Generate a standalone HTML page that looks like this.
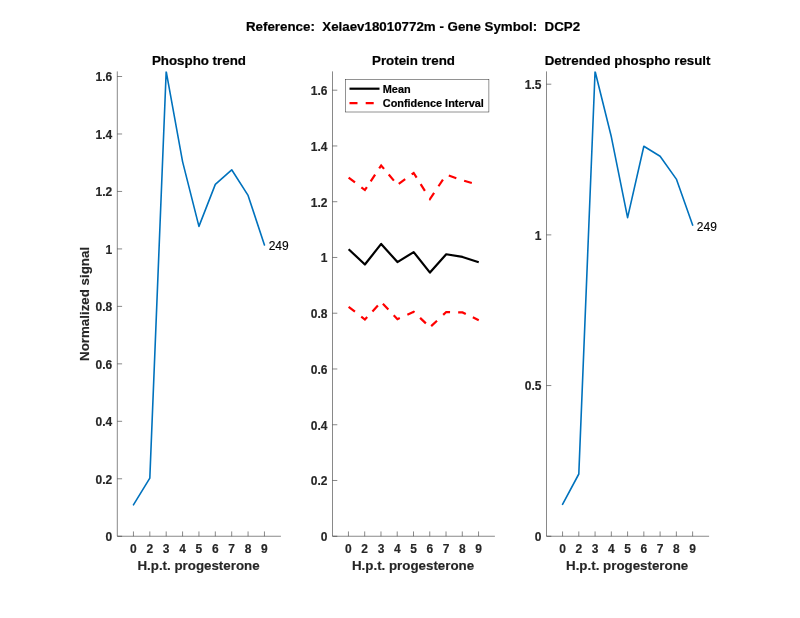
<!DOCTYPE html>
<html lang="en">
<head>
<meta charset="utf-8">
<title>Reference: Xelaev18010772m - Gene Symbol: DCP2</title>
<style>
html,body{margin:0;padding:0;background:#fff;overflow:hidden}
body{width:800px;height:618px}
svg text{font-family:"Liberation Sans",Arial,Helvetica,sans-serif}
</style>
</head>
<body>
<svg width="800" height="618" viewBox="0 0 800 618" style="display:block">
<rect width="800" height="618" fill="#fff"/>
<defs><clipPath id="clip"><rect x="0" y="71.4" width="800" height="464.85"/></clipPath></defs>
<text x="413.05" y="31" text-anchor="middle" font-weight="bold" font-size="13.33" fill="#000" stroke="#000" stroke-width="0.2" xml:space="preserve" style="white-space:pre">Reference:  Xelaev18010772m - Gene Symbol:  DCP2</text>
<g><path d="M117.3 71.4V536.25H280.9" fill="none" stroke="#262626" stroke-width="0.55"/><path d="M133.44 536.25v-4.8M149.82 536.25v-4.8M166.19 536.25v-4.8M182.57 536.25v-4.8M198.94 536.25v-4.8M215.32 536.25v-4.8M231.70 536.25v-4.8M248.07 536.25v-4.8M264.45 536.25v-4.8M117.3 536.25h4.8M117.3 478.78h4.8M117.3 421.31h4.8M117.3 363.85h4.8M117.3 306.38h4.8M117.3 248.91h4.8M117.3 191.44h4.8M117.3 133.97h4.8M117.3 76.51h4.8" fill="none" stroke="#262626" stroke-width="0.55"/><text x="133.44" y="553.05" text-anchor="middle" font-weight="bold" font-size="12" fill="#262626" stroke="#262626" stroke-width="0.15">0</text><text x="149.82" y="553.05" text-anchor="middle" font-weight="bold" font-size="12" fill="#262626" stroke="#262626" stroke-width="0.15">2</text><text x="166.19" y="553.05" text-anchor="middle" font-weight="bold" font-size="12" fill="#262626" stroke="#262626" stroke-width="0.15">3</text><text x="182.57" y="553.05" text-anchor="middle" font-weight="bold" font-size="12" fill="#262626" stroke="#262626" stroke-width="0.15">4</text><text x="198.94" y="553.05" text-anchor="middle" font-weight="bold" font-size="12" fill="#262626" stroke="#262626" stroke-width="0.15">5</text><text x="215.32" y="553.05" text-anchor="middle" font-weight="bold" font-size="12" fill="#262626" stroke="#262626" stroke-width="0.15">6</text><text x="231.70" y="553.05" text-anchor="middle" font-weight="bold" font-size="12" fill="#262626" stroke="#262626" stroke-width="0.15">7</text><text x="248.07" y="553.05" text-anchor="middle" font-weight="bold" font-size="12" fill="#262626" stroke="#262626" stroke-width="0.15">8</text><text x="264.45" y="553.05" text-anchor="middle" font-weight="bold" font-size="12" fill="#262626" stroke="#262626" stroke-width="0.15">9</text><text x="112.30" y="541.15" text-anchor="end" font-weight="bold" font-size="12" fill="#262626" stroke="#262626" stroke-width="0.15">0</text><text x="112.30" y="483.68" text-anchor="end" font-weight="bold" font-size="12" fill="#262626" stroke="#262626" stroke-width="0.15">0.2</text><text x="112.30" y="426.21" text-anchor="end" font-weight="bold" font-size="12" fill="#262626" stroke="#262626" stroke-width="0.15">0.4</text><text x="112.30" y="368.75" text-anchor="end" font-weight="bold" font-size="12" fill="#262626" stroke="#262626" stroke-width="0.15">0.6</text><text x="112.30" y="311.28" text-anchor="end" font-weight="bold" font-size="12" fill="#262626" stroke="#262626" stroke-width="0.15">0.8</text><text x="112.30" y="253.81" text-anchor="end" font-weight="bold" font-size="12" fill="#262626" stroke="#262626" stroke-width="0.15">1</text><text x="112.30" y="196.34" text-anchor="end" font-weight="bold" font-size="12" fill="#262626" stroke="#262626" stroke-width="0.15">1.2</text><text x="112.30" y="138.87" text-anchor="end" font-weight="bold" font-size="12" fill="#262626" stroke="#262626" stroke-width="0.15">1.4</text><text x="112.30" y="81.41" text-anchor="end" font-weight="bold" font-size="12" fill="#262626" stroke="#262626" stroke-width="0.15">1.6</text><text x="198.50" y="569.75" text-anchor="middle" font-weight="bold" font-size="13.33" fill="#262626" stroke="#262626" stroke-width="0.15">H.p.t. progesterone</text><text x="198.94" y="65" text-anchor="middle" font-weight="bold" font-size="13.33" fill="#000" stroke="#000" stroke-width="0.2">Phospho trend</text></g>
<g><path d="M332.5 71.4V536.25H494.9" fill="none" stroke="#262626" stroke-width="0.55"/><path d="M348.44 536.25v-4.8M364.70 536.25v-4.8M380.97 536.25v-4.8M397.23 536.25v-4.8M413.50 536.25v-4.8M429.76 536.25v-4.8M446.02 536.25v-4.8M462.29 536.25v-4.8M478.55 536.25v-4.8M332.5 536.25h4.8M332.5 480.49h4.8M332.5 424.74h4.8M332.5 368.98h4.8M332.5 313.23h4.8M332.5 257.47h4.8M332.5 201.71h4.8M332.5 145.96h4.8M332.5 90.20h4.8" fill="none" stroke="#262626" stroke-width="0.55"/><text x="348.44" y="553.05" text-anchor="middle" font-weight="bold" font-size="12" fill="#262626" stroke="#262626" stroke-width="0.15">0</text><text x="364.70" y="553.05" text-anchor="middle" font-weight="bold" font-size="12" fill="#262626" stroke="#262626" stroke-width="0.15">2</text><text x="380.97" y="553.05" text-anchor="middle" font-weight="bold" font-size="12" fill="#262626" stroke="#262626" stroke-width="0.15">3</text><text x="397.23" y="553.05" text-anchor="middle" font-weight="bold" font-size="12" fill="#262626" stroke="#262626" stroke-width="0.15">4</text><text x="413.50" y="553.05" text-anchor="middle" font-weight="bold" font-size="12" fill="#262626" stroke="#262626" stroke-width="0.15">5</text><text x="429.76" y="553.05" text-anchor="middle" font-weight="bold" font-size="12" fill="#262626" stroke="#262626" stroke-width="0.15">6</text><text x="446.02" y="553.05" text-anchor="middle" font-weight="bold" font-size="12" fill="#262626" stroke="#262626" stroke-width="0.15">7</text><text x="462.29" y="553.05" text-anchor="middle" font-weight="bold" font-size="12" fill="#262626" stroke="#262626" stroke-width="0.15">8</text><text x="478.55" y="553.05" text-anchor="middle" font-weight="bold" font-size="12" fill="#262626" stroke="#262626" stroke-width="0.15">9</text><text x="327.50" y="541.15" text-anchor="end" font-weight="bold" font-size="12" fill="#262626" stroke="#262626" stroke-width="0.15">0</text><text x="327.50" y="485.39" text-anchor="end" font-weight="bold" font-size="12" fill="#262626" stroke="#262626" stroke-width="0.15">0.2</text><text x="327.50" y="429.64" text-anchor="end" font-weight="bold" font-size="12" fill="#262626" stroke="#262626" stroke-width="0.15">0.4</text><text x="327.50" y="373.88" text-anchor="end" font-weight="bold" font-size="12" fill="#262626" stroke="#262626" stroke-width="0.15">0.6</text><text x="327.50" y="318.13" text-anchor="end" font-weight="bold" font-size="12" fill="#262626" stroke="#262626" stroke-width="0.15">0.8</text><text x="327.50" y="262.37" text-anchor="end" font-weight="bold" font-size="12" fill="#262626" stroke="#262626" stroke-width="0.15">1</text><text x="327.50" y="206.61" text-anchor="end" font-weight="bold" font-size="12" fill="#262626" stroke="#262626" stroke-width="0.15">1.2</text><text x="327.50" y="150.86" text-anchor="end" font-weight="bold" font-size="12" fill="#262626" stroke="#262626" stroke-width="0.15">1.4</text><text x="327.50" y="95.10" text-anchor="end" font-weight="bold" font-size="12" fill="#262626" stroke="#262626" stroke-width="0.15">1.6</text><text x="413.05" y="569.75" text-anchor="middle" font-weight="bold" font-size="13.33" fill="#262626" stroke="#262626" stroke-width="0.15">H.p.t. progesterone</text><text x="413.50" y="65" text-anchor="middle" font-weight="bold" font-size="13.33" fill="#000" stroke="#000" stroke-width="0.2">Protein trend</text></g>
<g><path d="M546.5 71.4V536.25H709.1" fill="none" stroke="#262626" stroke-width="0.55"/><path d="M562.55 536.25v-4.8M578.81 536.25v-4.8M595.07 536.25v-4.8M611.33 536.25v-4.8M627.59 536.25v-4.8M643.84 536.25v-4.8M660.10 536.25v-4.8M676.36 536.25v-4.8M692.62 536.25v-4.8M546.5 536.25h4.8M546.5 385.56h4.8M546.5 234.88h4.8M546.5 84.19h4.8" fill="none" stroke="#262626" stroke-width="0.55"/><text x="562.55" y="553.05" text-anchor="middle" font-weight="bold" font-size="12" fill="#262626" stroke="#262626" stroke-width="0.15">0</text><text x="578.81" y="553.05" text-anchor="middle" font-weight="bold" font-size="12" fill="#262626" stroke="#262626" stroke-width="0.15">2</text><text x="595.07" y="553.05" text-anchor="middle" font-weight="bold" font-size="12" fill="#262626" stroke="#262626" stroke-width="0.15">3</text><text x="611.33" y="553.05" text-anchor="middle" font-weight="bold" font-size="12" fill="#262626" stroke="#262626" stroke-width="0.15">4</text><text x="627.59" y="553.05" text-anchor="middle" font-weight="bold" font-size="12" fill="#262626" stroke="#262626" stroke-width="0.15">5</text><text x="643.84" y="553.05" text-anchor="middle" font-weight="bold" font-size="12" fill="#262626" stroke="#262626" stroke-width="0.15">6</text><text x="660.10" y="553.05" text-anchor="middle" font-weight="bold" font-size="12" fill="#262626" stroke="#262626" stroke-width="0.15">7</text><text x="676.36" y="553.05" text-anchor="middle" font-weight="bold" font-size="12" fill="#262626" stroke="#262626" stroke-width="0.15">8</text><text x="692.62" y="553.05" text-anchor="middle" font-weight="bold" font-size="12" fill="#262626" stroke="#262626" stroke-width="0.15">9</text><text x="541.50" y="541.15" text-anchor="end" font-weight="bold" font-size="12" fill="#262626" stroke="#262626" stroke-width="0.15">0</text><text x="541.50" y="390.46" text-anchor="end" font-weight="bold" font-size="12" fill="#262626" stroke="#262626" stroke-width="0.15">0.5</text><text x="541.50" y="239.78" text-anchor="end" font-weight="bold" font-size="12" fill="#262626" stroke="#262626" stroke-width="0.15">1</text><text x="541.50" y="89.09" text-anchor="end" font-weight="bold" font-size="12" fill="#262626" stroke="#262626" stroke-width="0.15">1.5</text><text x="627.13" y="569.75" text-anchor="middle" font-weight="bold" font-size="13.33" fill="#262626" stroke="#262626" stroke-width="0.15">H.p.t. progesterone</text><text x="627.59" y="65" text-anchor="middle" font-weight="bold" font-size="13.33" fill="#000" stroke="#000" stroke-width="0.2">Detrended phospho result</text></g>
<text transform="translate(88.8 303.9) rotate(-90)" text-anchor="middle" font-weight="bold" font-size="13.33" fill="#262626" stroke="#262626" stroke-width="0.15">Normalized signal</text>
<polyline points="133.44,504.80 149.82,478.20 166.19,71.30 182.57,161.60 198.94,226.40 215.32,184.40 231.70,169.80 248.07,195.40 264.45,245.00" fill="none" stroke="#0072bd" stroke-width="1.6" stroke-linejoin="round" stroke-linecap="round" clip-path="url(#clip)"/>
<polyline points="562.55,504.40 578.81,474.00 595.07,71.30 611.33,136.80 627.59,217.60 643.84,146.20 660.10,156.20 676.36,179.10 692.62,225.10" fill="none" stroke="#0072bd" stroke-width="1.6" stroke-linejoin="round" stroke-linecap="round" clip-path="url(#clip)"/>
<polyline points="348.64,249.18 364.90,264.50 381.17,243.90 397.43,262.10 413.69,252.10 429.96,272.60 446.22,254.25 462.49,256.95 478.75,262.20" fill="none" stroke="#000" stroke-width="2.2" stroke-linejoin="round" clip-path="url(#clip)"/>
<path d="M348.64 177.60L355.00 182.45M361.36 187.30L364.90 190.00L366.87 187.04M370.68 181.30L375.11 174.63M379.20 168.46L381.17 165.50L384.03 168.90M388.73 174.48L393.89 180.60M398.73 183.86L405.20 179.16M411.68 174.46L413.69 173.00L416.62 177.67M420.65 184.11L424.89 190.90M429.66 198.53L429.96 199.00L434.10 192.82M438.49 186.25L442.94 179.60M448.78 175.58L456.34 178.18M464.12 180.77L471.81 182.99" fill="none" stroke="#f00" stroke-width="2.2" stroke-linejoin="miter" stroke-miterlimit="10" clip-path="url(#clip)"/>
<path d="M348.64 306.80L354.95 311.72M361.25 316.65L364.90 319.50L367.19 317.04M372.44 311.39L377.88 305.53M382.87 303.80L388.36 309.61M393.72 315.28L397.43 319.20L399.80 318.12M407.36 314.68L413.69 311.80L414.44 312.51M420.09 317.90L425.88 323.41M431.17 326.16L437.00 320.68M443.19 314.85L446.22 312.00L450.06 312.09M458.16 312.29L462.49 312.40L465.80 313.99M472.83 317.36L478.75 320.20" fill="none" stroke="#f00" stroke-width="2.2" stroke-linejoin="miter" stroke-miterlimit="10" clip-path="url(#clip)"/>
<text x="268.65" y="250" font-size="12" fill="#000" stroke="#000" stroke-width="0.12">249</text>
<text x="696.82" y="231" font-size="12" fill="#000" stroke="#000" stroke-width="0.12">249</text>
<rect x="345.6" y="79.5" width="143.3" height="32.5" fill="#fff" stroke="#262626" stroke-width="0.5"/>
<path d="M349.5 88.7H379.5" stroke="#000" stroke-width="2.2" fill="none"/>
<path d="M349.5 103.1H379.5" stroke="#f00" stroke-width="2.2" stroke-dasharray="8 8.2" fill="none"/>
<text x="382.8" y="93" font-weight="bold" font-size="10.9" fill="#000" stroke="#000" stroke-width="0.2">Mean</text>
<text x="382.8" y="107" font-weight="bold" font-size="10.9" fill="#000" stroke="#000" stroke-width="0.2">Confidence Interval</text>
</svg>
</body>
</html>
